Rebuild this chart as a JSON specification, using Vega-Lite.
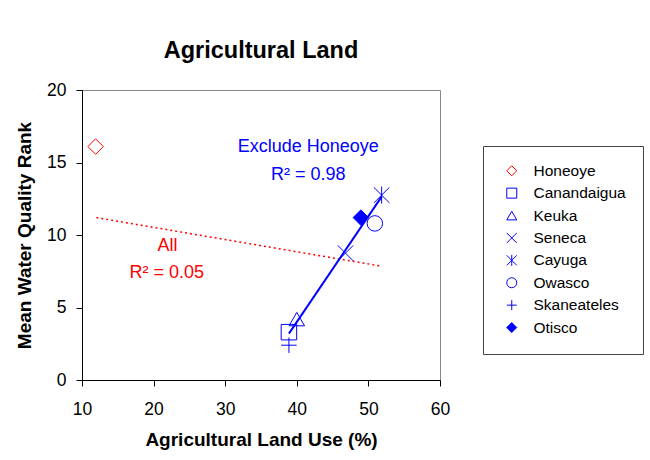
{
  "$schema": "https://vega.github.io/schema/vega-lite/v6.json",
  "width": 358,
  "height": 290,
  "autosize": {"type": "none"},
  "padding": {"left": 82, "top": 90, "right": 210, "bottom": 80},
  "background": "white",
  "title": {"text": "Agricultural Land", "fontSize": 23.5, "font": "Liberation Sans", "fontWeight": "bold", "color": "black", "offset": 19, "anchor": "middle"},
  "config": {
    "font": "Liberation Sans",
    "view": {"stroke": "#888888", "strokeWidth": 1},
    "axis": {"grid": false, "labelFlush": false, "domainColor": "black", "tickColor": "black", "labelColor": "black", "titleColor": "black", "labelFontSize": 17.5, "titleFontSize": 19, "titleFontWeight": "bold", "tickSize": 6, "labelFont": "Liberation Sans", "titleFont": "Liberation Sans"},
    "axisX": {"labelPadding": 14, "titlePadding": 13},
    "axisY": {"labelPadding": 10, "titlePadding": 12}
  },
  "datasets": {
    "points": [
      {"lake": "Honeoye", "ag": 11.9, "rank": 16.1},
      {"lake": "Canandaigua", "ag": 38.9, "rank": 3.3},
      {"lake": "Keuka", "ag": 40.0, "rank": 4.2},
      {"lake": "Seneca", "ag": 46.8, "rank": 8.75},
      {"lake": "Cayuga", "ag": 51.85, "rank": 12.75},
      {"lake": "Owasco", "ag": 50.9, "rank": 10.8},
      {"lake": "Skaneateles", "ag": 38.9, "rank": 2.4},
      {"lake": "Otisco", "ag": 48.95, "rank": 11.2}
    ],
    "lines": [
      {"series": "All", "ag": 12.0, "rank": 11.2},
      {"series": "All", "ag": 51.7, "rank": 7.86},
      {"series": "Exclude", "ag": 38.9, "rank": 3.2},
      {"series": "Exclude", "ag": 51.85, "rank": 12.65}
    ],
    "labels": [
      {"group": "Exclude", "text": "Exclude Honeoye", "ag": 41.6, "rank": 15.7},
      {"group": "Exclude", "text": "R² = 0.98", "ag": 41.6, "rank": 13.8},
      {"group": "All", "text": "All", "ag": 21.95, "rank": 8.9},
      {"group": "All", "text": "R² = 0.05", "ag": 21.85, "rank": 7.03}
    ]
  },
  "layer": [
    {
      "data": {"name": "lines"},
      "transform": [{"filter": "datum.series === 'All'"}],
      "mark": {"type": "line", "color": "#FF0000", "strokeWidth": 1.5, "strokeDash": [2, 3]},
      "encoding": {
        "x": {"field": "ag", "type": "quantitative", "scale": {"domain": [10, 60], "nice": false, "zero": false}, "axis": {"values": [10, 20, 30, 40, 50, 60], "title": "Agricultural Land Use (%)"}},
        "y": {"field": "rank", "type": "quantitative", "scale": {"domain": [0, 20], "nice": false}, "axis": {"values": [0, 5, 10, 15, 20], "title": "Mean Water Quality Rank"}}
      }
    },
    {
      "data": {"name": "lines"},
      "transform": [{"filter": "datum.series === 'Exclude'"}],
      "mark": {"type": "line", "color": "#0000FF", "strokeWidth": 2},
      "encoding": {
        "x": {"field": "ag", "type": "quantitative"},
        "y": {"field": "rank", "type": "quantitative"}
      }
    },
    {
      "data": {"name": "points"},
      "mark": {"type": "point", "size": 240, "strokeWidth": 1, "opacity": 1},
      "encoding": {
        "x": {"field": "ag", "type": "quantitative"},
        "y": {"field": "rank", "type": "quantitative"},
        "shape": {"field": "lake", "type": "nominal",
          "scale": {"domain": ["Honeoye", "Canandaigua", "Keuka", "Seneca", "Cayuga", "Owasco", "Skaneateles", "Otisco"],
                    "range": ["diamond", "square", "triangle-up", "M-1,-1L1,1M1,-1L-1,1", "M-1,-1L1,1M1,-1L-1,1M0,-1.1L0,1.1", "circle", "M-1,0L1,0M0,-1L0,1", "diamond"]},
          "legend": {"title": null, "orient": "none", "legendX": 401, "legendY": 56, "strokeColor": "#444444", "padding": 17, "labelFontSize": 15.5, "labelColor": "black", "symbolSize": 100, "rowPadding": 5.4, "labelOffset": 14, "symbolOffset": 4, "symbolStrokeWidth": 1}},
        "stroke": {"field": "lake", "type": "nominal",
          "scale": {"domain": ["Honeoye", "Canandaigua", "Keuka", "Seneca", "Cayuga", "Owasco", "Skaneateles", "Otisco"],
                    "range": ["#FF0000", "#0000FF", "#0000FF", "#0000FF", "#0000FF", "#0000FF", "#0000FF", "#0000FF"]},
          "legend": {"title": null, "orient": "none", "legendX": 401, "legendY": 56, "strokeColor": "#444444", "padding": 17, "labelFontSize": 15.5, "labelColor": "black", "symbolSize": 100, "rowPadding": 5.4, "labelOffset": 14, "symbolOffset": 4, "symbolStrokeWidth": 1}},
        "fill": {"field": "lake", "type": "nominal",
          "scale": {"domain": ["Honeoye", "Canandaigua", "Keuka", "Seneca", "Cayuga", "Owasco", "Skaneateles", "Otisco"],
                    "range": ["transparent", "transparent", "transparent", "transparent", "transparent", "transparent", "transparent", "#0000FF"]},
          "legend": {"title": null, "orient": "none", "legendX": 401, "legendY": 56, "strokeColor": "#444444", "padding": 17, "labelFontSize": 15.5, "labelColor": "black", "symbolSize": 100, "rowPadding": 5.4, "labelOffset": 14, "symbolOffset": 4, "symbolStrokeWidth": 1}}
      }
    },
    {
      "data": {"name": "labels"},
      "mark": {"type": "text", "fontSize": 18, "baseline": "alphabetic", "align": "center", "font": "Liberation Sans"},
      "encoding": {
        "x": {"field": "ag", "type": "quantitative"},
        "y": {"field": "rank", "type": "quantitative"},
        "text": {"field": "text", "type": "nominal"},
        "color": {"field": "group", "type": "nominal", "scale": {"domain": ["Exclude", "All"], "range": ["#0000FF", "#FF0000"]}, "legend": null}
      }
    }
  ]
}
